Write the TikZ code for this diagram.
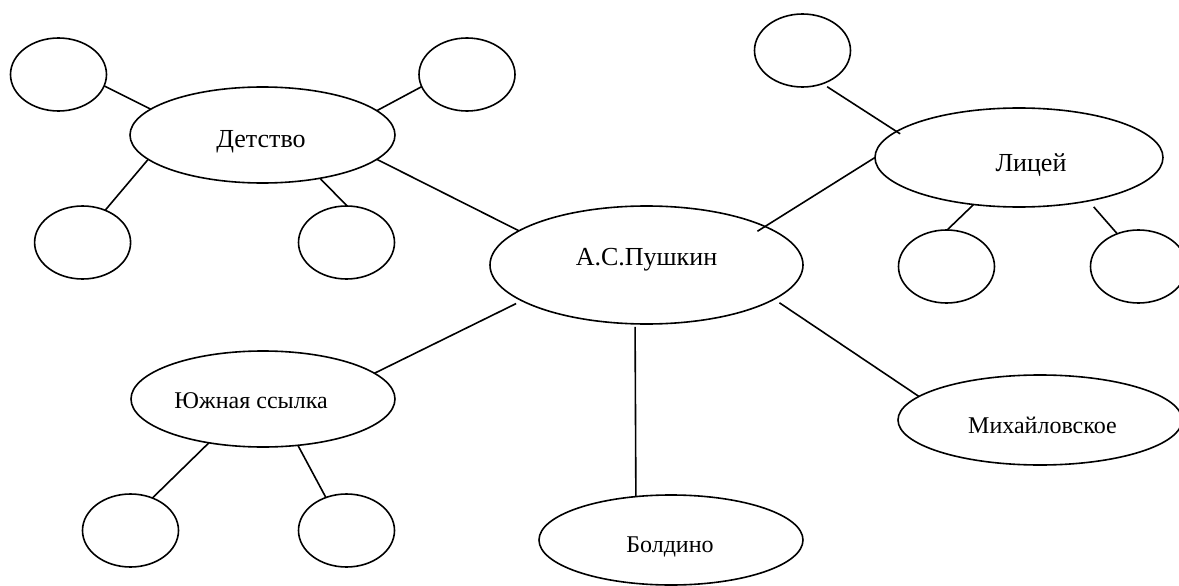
\documentclass[tikz,border=0pt]{standalone}
\usepackage{fontspec}
\setmainfont{Liberation Serif}
\usetikzlibrary{shapes.geometric}
\begin{document}
\begin{tikzpicture}[x=1pt,y=-1pt,
  ell/.style={draw, ellipse, line width=1.6pt, inner sep=0pt, outer sep=0pt},
  circ/.style={ell, minimum width=96pt, minimum height=73pt},
  conn/.style={line width=1.6pt},
  lbl/.style={anchor=base, inner sep=0pt, font=\fontsize{26}{30}\selectfont},
  lbls/.style={lbl, font=\fontsize{24}{28}\selectfont}]
\fill[white] (0,0) rectangle (1179,586);
\useasboundingbox (0,0) rectangle (1179,586);
\clip (0,0) rectangle (1179,586);
% main ellipses
\node[ell, minimum width=265pt, minimum height=96pt] (D) at (262.5,135) {};
\node[ell, minimum width=313pt, minimum height=118pt] (P) at (646.5,265) {};
\node[ell, minimum width=288pt, minimum height=99pt] (L) at (1019,157.5) {};
\node[ell, minimum width=264pt, minimum height=96pt] (Y) at (263,399) {};
\node[ell, minimum width=284pt, minimum height=90pt] (M) at (1040,420) {};
\node[ell, minimum width=264pt, minimum height=90pt] (B) at (671,540) {};
% small circles
\node[circ] (d1) at (58.5,74.5) {};
\node[circ] (d2) at (467,74.5) {};
\node[circ] (d3) at (82.6,242.5) {};
\node[circ] (d4) at (346.5,242.5) {};
\node[circ] (l1) at (802.5,50.5) {};
\node[circ] (l2) at (946.5,266.5) {};
\node[circ] (l3) at (1138.5,266.5) {};
\node[circ] (y1) at (130.5,530.5) {};
\node[circ] (y2) at (346.5,530.5) {};
% labels
\node[lbl] (tD) at (261,147) {Детство};
\node[lbl] (tP) at (646.5,265) {А.С.Пушкин};
\node[lbl] (tL) at (1031,171) {Лицей};
\node[lbls] (tY) at (251,408) {Южная ссылка};
\node[lbls] (tM) at (1042.5,433) {Михайловское};
\node[lbls] (tB) at (670,552) {Болдино};
% connectors
\draw[conn] (d1.-14.5) -- (D.167);
\draw[conn] (d2.-165.4) -- (D.12.9);
\draw[conn] (d3.55.8) -- (D.-168);
\draw[conn] (d4.89.6) -- (D.-37.4);
\draw[conn] (D.-12.9) -- (P.165.45);
\draw[conn, shorten >=-9pt] (L.180) -- (P.18.8);
\draw[conn, shorten <=5.6pt, shorten >=-4.3pt] (l1.-59.2) -- (L.168.7);
\draw[conn] (L.-134) -- (l2.89);
\draw[conn, shorten <=8pt] (L.-32.9) -- (l3.123.5);
\draw[conn, shorten <=6.5pt] (P.-164.4) -- (Y.13.4);
\draw[conn] (Y.-141.3) -- (y1.56.1);
\draw[conn] (Y.-53.9) -- (y2.122.8);
\draw[conn, shorten <=3pt] (P.-101.06) -- (B.129.7);
\draw[conn, shorten <=6.5pt] (P.-15.1) -- (M.169.4);
\end{tikzpicture}
\end{document}
